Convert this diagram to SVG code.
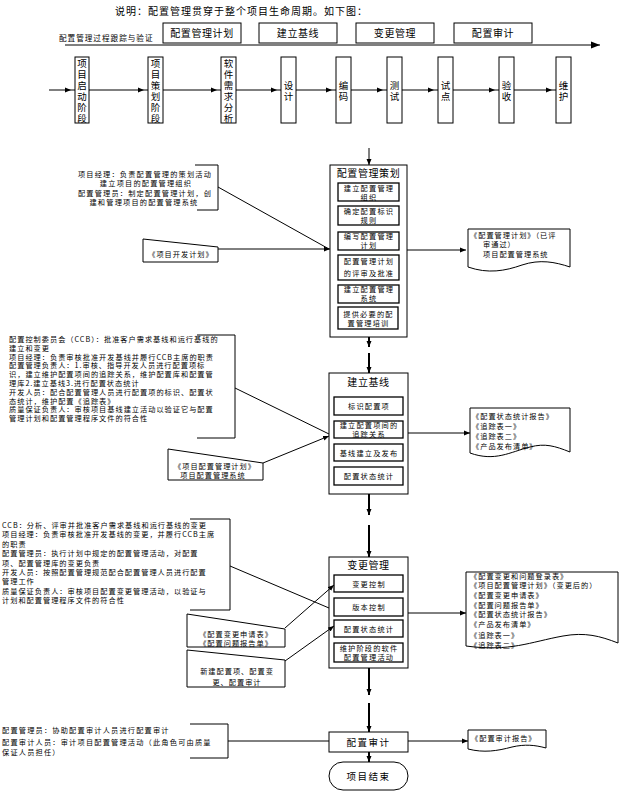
<svg xmlns="http://www.w3.org/2000/svg" width="620" height="792" viewBox="0 0 620 792">
<style>
text{font-family:"Noto Sans CJK SC","Noto Sans",sans-serif;fill:#000}
.t8{font-size:7.2px;letter-spacing:1px}
.t85{font-size:7.2px;letter-spacing:1.2px}
.t10{font-size:9.5px}
.vt{font-size:9.5px;writing-mode:vertical-rl;letter-spacing:1.5px}
.t105{font-size:10px;letter-spacing:0.6px}
.c{text-anchor:middle}
.box{fill:#fff;stroke:#000;stroke-width:1}
.ib{fill:#fff;stroke:#000;stroke-width:1.3}
.ln{fill:none;stroke:#000;stroke-width:1}
.thk{fill:none;stroke:#000;stroke-width:2}
</style>
<defs>
<marker id="ah" markerWidth="7" markerHeight="6" refX="6" refY="3" orient="auto" markerUnits="userSpaceOnUse"><path d="M0,0.5 L6,3 L0,5.5 Z" fill="#000"/></marker>
<marker id="ahp" markerWidth="12" markerHeight="6" refX="10" refY="3" orient="auto" markerUnits="userSpaceOnUse"><path d="M0,0.5 L6,3 L0,5.5 Z" fill="#000"/></marker>
<marker id="ahb" markerWidth="10" markerHeight="8" refX="9" refY="4" orient="auto" markerUnits="userSpaceOnUse"><path d="M0,0.5 L9,4 L0,7.5 Z" fill="#000"/></marker>
</defs>
<rect width="620" height="792" fill="#fff"/>

<text x="115" y="15" style="font-size:10px;letter-spacing:1px">说明：配置管理贯穿于整个项目生命周期。如下图：</text>

<g id="top-boxes">
<rect class="box" x="163" y="23" width="78" height="20"/><text class="t105 c" x="202" y="37">配置管理计划</text>
<rect class="box" x="259" y="23" width="78" height="20"/><text class="t105 c" x="298" y="37" letter-spacing="1.5">建立基线</text>
<rect class="box" x="356" y="23" width="78" height="20"/><text class="t105 c" x="395" y="37" letter-spacing="1.5">变更管理</text>
<rect class="box" x="454" y="23" width="78" height="20"/><text class="t105 c" x="493" y="37" letter-spacing="1.5">配置审计</text>
</g>
<text x="59" y="41" style="font-size:7.6px;letter-spacing:1px">配置管理过程跟踪与验证</text>

<g id="phases">
<g id="p1"><rect class="box" x="75" y="57" width="14" height="66"/><text class="vt" x="82" y="58.5">项目启动阶段</text></g>
<g id="p2"><rect class="box" x="148" y="57" width="15" height="66"/><text class="vt" x="155.5" y="58.5">项目策划阶段</text></g>
<g id="p3"><rect class="box" x="221" y="57" width="15" height="66"/><text class="vt" x="228.5" y="58.5">软件需求分析</text></g>
<g id="p4"><rect class="box" x="281" y="57" width="15" height="66"/><text class="vt" x="288.5" y="80.5">设计</text></g>
<g id="p5"><rect class="box" x="336" y="57" width="15" height="66"/><text class="vt" x="343.5" y="80.5">编码</text></g>
<g id="p6"><rect class="box" x="387" y="57" width="15" height="66"/><text class="vt" x="394.5" y="80.5">测试</text></g>
<g id="p7"><rect class="box" x="438" y="57" width="15" height="66"/><text class="vt" x="445.5" y="80.5">试点</text></g>
<g id="p8"><rect class="box" x="499" y="57" width="15" height="66"/><text class="vt" x="506.5" y="80.5">验收</text></g>
<g id="p9"><rect class="box" x="556" y="57" width="15" height="66"/><text class="vt" x="563.5" y="80.5">维护</text></g>
</g>

<g id="box-plan">
<rect class="box" x="330" y="165" width="77" height="172"/>
<text class="t105 c" x="368.5" y="177">配置管理策划</text>
<rect class="ib" x="338" y="183" width="61" height="18"/>
<text class="t85 c"><tspan x="369" y="190.5">建立配置管理</tspan><tspan x="369" y="199.5">组织</tspan></text>
<rect class="ib" x="338" y="206" width="61" height="19"/>
<text class="t85 c"><tspan x="369" y="213.5">确定配置标识</tspan><tspan x="369" y="222.5">规则</tspan></text>
<rect class="ib" x="338" y="232" width="61" height="18"/>
<text class="t85 c"><tspan x="369" y="239">编写配置管理</tspan><tspan x="369" y="248">计划</tspan></text>
<rect class="ib" x="338" y="255" width="61" height="25"/>
<text class="t85 c"><tspan x="369" y="264">配置管理计划</tspan><tspan x="369" y="275.5">的评审及批准</tspan></text>
<rect class="ib" x="338" y="285" width="61" height="18"/>
<text class="t85 c"><tspan x="369" y="292">建立配置管理</tspan><tspan x="369" y="301">系统</tspan></text>
<rect class="ib" x="338" y="307" width="60" height="22"/>
<text class="t85 c"><tspan x="368.5" y="316.5">提供必要的配</tspan><tspan x="368.5" y="326">置管理培训</tspan></text>
</g>

<g id="box-baseline">
<rect class="box" x="329" y="373" width="79" height="121"/>
<text class="t105 c" x="368.5" y="386" letter-spacing="1.5">建立基线</text>
<rect class="ib" x="334" y="397" width="69" height="18"/>
<text class="t85 c" x="369" y="409">标识配置项</text>
<rect class="ib" x="334" y="421" width="69" height="17"/>
<text class="t85 c"><tspan x="369" y="427.5">建立配置项间的</tspan><tspan x="369" y="436.5">追踪关系</tspan></text>
<rect class="ib" x="334" y="444" width="69" height="17"/>
<text class="t85 c" x="369" y="456">基线建立及发布</text>
<rect class="ib" x="334" y="467" width="69" height="18"/>
<text class="t85 c" x="369" y="479">配置状态统计</text>
</g>

<g id="box-change">
<rect class="box" x="329" y="557" width="79" height="111"/>
<text class="t105 c" x="368.5" y="569" letter-spacing="1.5">变更管理</text>
<rect class="ib" x="334" y="575" width="69" height="17"/>
<text class="t85 c" x="369" y="587">变更控制</text>
<rect class="ib" x="334" y="598" width="69" height="18"/>
<text class="t85 c" x="369" y="610">版本控制</text>
<rect class="ib" x="334" y="620" width="69" height="17"/>
<text class="t85 c" x="369" y="632">配置状态统计</text>
<rect class="ib" x="334" y="643" width="69" height="19"/>
<text class="t85 c"><tspan x="369" y="650.5">维护阶段的软件</tspan><tspan x="369" y="660">配置管理活动</tspan></text>
</g>

<g id="box-audit">
<rect class="box" x="329" y="732" width="79" height="20"/>
<text class="t10 c" x="368.5" y="746" letter-spacing="1.5">配置审计</text>
</g>

<g id="end">
<rect class="box" x="329" y="762" width="79" height="28" rx="14" ry="14"/>
<text class="t10 c" x="368.5" y="780" letter-spacing="1.5">项目结束</text>
</g>

<g id="roles-plan">
<path class="ln" d="M195,165 H218 V210 H197"/>
<text class="t85 c"><tspan x="145" y="177">项目经理：负责配置管理的策划活动</tspan><tspan x="146" y="186">建立项目的配置管理组织</tspan><tspan x="145" y="196">配置管理员：制定配置管理计划，创</tspan><tspan x="144" y="205">建和管理项目的配置管理系统</tspan></text>
</g>

<g id="roles-baseline">
<path class="ln" d="M197,335 H235 V438 H197"/>
<text class="t8"><tspan x="9" y="342">配置控制委员会（CCB）：批准客户需求基线和运行基线的</tspan><tspan x="9" y="350.8">建立和变更</tspan><tspan x="9" y="359.6">项目经理：负责审核批准开发基线并履行CCB主席的职责</tspan><tspan x="9" y="368.4">配置管理负责人：1.审核、指导开发人员进行配置项标</tspan><tspan x="9" y="377.2">识，建立维护配置项间的追踪关系，维护配置库和配置管</tspan><tspan x="9" y="386">理库2.建立基线3.进行配置状态统计</tspan><tspan x="9" y="394.8">开发人员：配合配置管理人员进行配置项的标识、配置状</tspan><tspan x="9" y="403.6">态统计，维护配置《追踪表》</tspan><tspan x="9" y="412.4">质量保证负责人：审核项目基线建立活动以验证它与配置</tspan><tspan x="9" y="421.2">管理计划和配置管理程序文件的符合性</tspan></text>
</g>

<g id="roles-change">
<path class="ln" d="M190,519 H230 V610 H190"/>
<text class="t8"><tspan x="2" y="528">CCB：分析、评审并批准客户需求基线和运行基线的变更</tspan><tspan x="2" y="537.4">项目经理：负责审核批准开发基线的变更，并履行CCB主席</tspan><tspan x="2" y="546.8">的职责</tspan><tspan x="2" y="556.2">配置管理员：执行计划中规定的配置管理活动，对配置</tspan><tspan x="2" y="565.6">项、配置管理库的变更负责</tspan><tspan x="2" y="575">开发人员：按照配置管理规范配合配置管理人员进行配置</tspan><tspan x="2" y="584.4">管理工作</tspan><tspan x="2" y="593.8">质量保证负责人：审核项目配置变更管理活动，以验证与</tspan><tspan x="2" y="603.2">计划和配置管理程序文件的符合性</tspan></text>
</g>

<g id="roles-audit">
<path class="ln" d="M190,724 H228 V758 H190"/>
<text class="t85"><tspan x="2" y="733">配置管理员：协助配置审计人员进行配置审计</tspan><tspan x="2" y="745">配置审计人员：审计项目配置管理活动（此角色可由质量</tspan><tspan x="2" y="754.5">保证人员担任）</tspan></text>
</g>

<g id="in-devplan">
<path class="box" d="M143,239 L218,247 V262 H143 Z"/>
<text class="t8 c" x="181" y="257">《项目开发计划》</text>
</g>
<g id="in-cmplan">
<path class="box" d="M168,449 L263,463 V480 H168 Z"/>
<text class="t8 c"><tspan x="215" y="469">《项目配置管理计划》</tspan><tspan x="213" y="478">项目配置管理系统</tspan></text>
</g>
<g id="in-changereq">
<path class="box" d="M187,614 L285,629 V647 H187 Z"/>
<text class="t8 c"><tspan x="236" y="636.5">《配置变更申请表》</tspan><tspan x="236" y="645.5">《配置问题报告单》</tspan></text>
</g>
<g id="in-newitems">
<path class="box" d="M187,650 L285,660 V687 H187 Z"/>
<text class="t8 c"><tspan x="237" y="674">新建配置项、配置变</tspan><tspan x="237" y="685">更、配置审计</tspan></text>
</g>

<g id="out-plan">
<path class="box" d="M468,229 H570 V267 C555,262 540,259 522,265 C505,271 488,274 468,267 Z"/>
<text class="t8"><tspan x="470" y="238">《配置管理计划》（已评</tspan><tspan x="483" y="247">审通过）</tspan><tspan x="483" y="257">项目配置管理系统</tspan></text>
</g>
<g id="out-baseline">
<path class="box" d="M470,408 H570 V452 C555,446 545,443 530,447 C510,452 495,462 470,453 Z"/>
<text class="t8"><tspan x="472" y="419">《配置状态统计报告》</tspan><tspan x="472" y="429">《追踪表一》</tspan><tspan x="472" y="438.5">《追踪表二》</tspan><tspan x="472" y="449">《产品发布清单》</tspan></text>
</g>
<g id="out-change">
<path class="box" d="M466,572 H618 V643 C600,636 585,632 563,636 C530,642 510,652 466,646 Z"/>
<text class="t8"><tspan x="470" y="578.5">《配置变更和问题登录表》</tspan><tspan x="470" y="588">《项目配置管理计划》（变更后的）</tspan><tspan x="470" y="598">《配置变更申请表》</tspan><tspan x="470" y="607.5">《配置问题报告单》</tspan><tspan x="470" y="617">《配置状态统计报告》</tspan><tspan x="470" y="626.5">《产品发布清单》</tspan><tspan x="470" y="637.5">《追踪表一》</tspan><tspan x="470" y="647.5">《追踪表二》</tspan></text>
</g>
<g id="out-audit">
<path class="box" d="M468,730 H546 V748 C535,745 525,744 512,747 C497,751 484,753 468,749 Z"/>
<text class="t8" x="471" y="741">《配置审计报告》</text>
</g>

<g id="connectors">
<path class="ln" d="M65,45 H600" stroke-width="1.5" marker-end="url(#ahb)"/>
<path class="ln" d="M49,90 H75" marker-end="url(#ahp)"/>
<path class="ln" d="M89,90 H148" marker-end="url(#ahp)"/>
<path class="ln" d="M163,90 H221" marker-end="url(#ahp)"/>
<path class="ln" d="M236,90 H281" marker-end="url(#ahp)"/>
<path class="ln" d="M296,90 H336" marker-end="url(#ahp)"/>
<path class="ln" d="M351,90 H387" marker-end="url(#ahp)"/>
<path class="ln" d="M402,90 H438" marker-end="url(#ahp)"/>
<path class="ln" d="M453,90 H499" marker-end="url(#ahp)"/>
<path class="ln" d="M514,90 H556" marker-end="url(#ahp)"/>

<path class="ln" d="M369,148 V165" stroke-width="1.5" marker-end="url(#ah)"/>
<path class="thk" d="M369,337 V347" marker-end="url(#ah)"/>
<path class="thk" d="M369,353 V373" marker-end="url(#ah)"/>
<path class="thk" d="M369,494 V515" marker-end="url(#ah)"/>
<path class="thk" d="M369,525 V557" marker-end="url(#ah)"/>
<path class="thk" d="M369,668 V695" marker-end="url(#ah)"/>
<path class="thk" d="M369,703 V732" marker-end="url(#ah)"/>
<path class="thk" d="M369,752 V762" marker-end="url(#ah)"/>

<path class="ln" d="M218,187 L329,249"/>
<path class="ln" d="M218,249 H330" marker-end="url(#ah)"/>
<path class="ln" d="M407,250 H466" marker-end="url(#ah)"/>

<path class="ln" d="M235,388 L329,434"/>
<path class="ln" d="M263,463 L329,436" marker-end="url(#ah)"/>
<path class="ln" d="M408,433 H470" marker-end="url(#ah)"/>

<path class="ln" d="M230,566 L329,608"/>
<path class="ln" d="M285,628 L334,585" marker-end="url(#ah)"/>
<path class="ln" d="M285,661 L334,626" marker-end="url(#ah)"/>
<path class="ln" d="M408,613 H466" marker-end="url(#ah)"/>

<path class="ln" d="M228,741 H283" stroke-width="2.2"/>
<path class="ln" d="M283,741 H329"/>
<path class="ln" d="M408,741 H468" marker-end="url(#ah)"/>
</g>
</svg>
